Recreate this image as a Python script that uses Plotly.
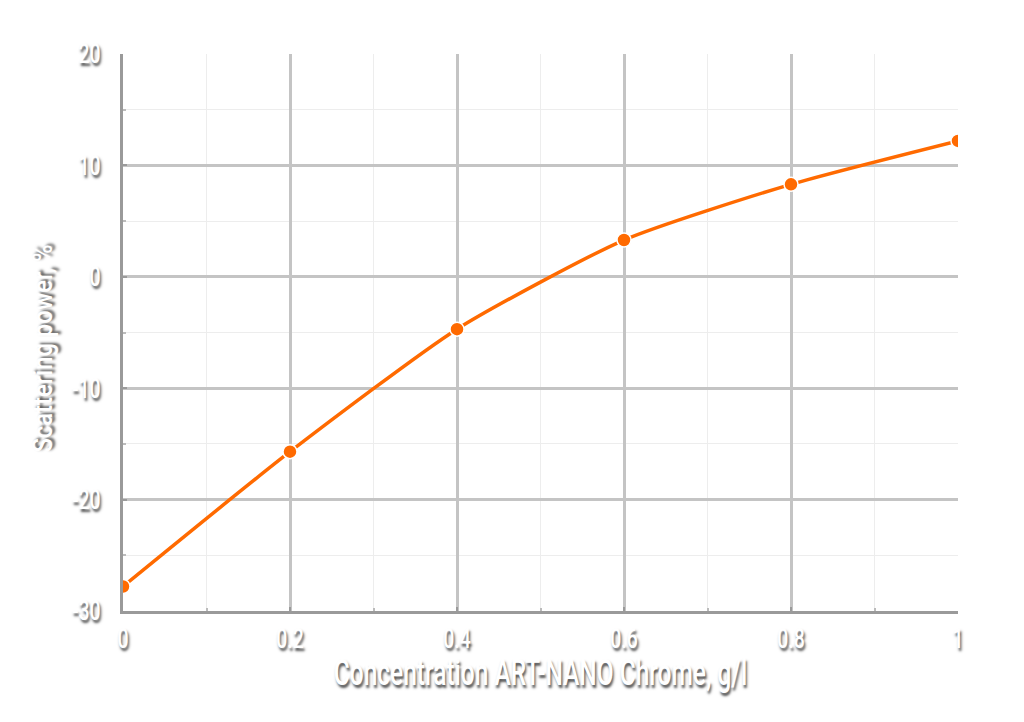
import plotly.graph_objects as go

concentration = [0, 0.2, 0.4, 0.6, 0.8, 1.0]
scattering_power = [-27.8, -15.7, -4.7, 3.3, 8.3, 12.2]

x_ticks = [0, 0.2, 0.4, 0.6, 0.8, 1]
x_ticklabels = ["0", "0.2", "0.4", "0.6", "0.8", "1"]
y_ticks = [-30, -20, -10, 0, 10, 20]
y_ticklabels = ["-30", "-20", "-10", "0", "10", "20"]

x_title = "Concentration ART-NANO Chrome, g/l"
y_title = "Scattering power, %"

FONT = "Roboto, Liberation Sans, sans-serif"
SHADOW = "2px 3px 3px #555555"

fig = go.Figure()
fig.add_trace(go.Scatter(
    x=concentration, y=scattering_power,
    mode="lines+markers",
    line=dict(color="#ff6a00", width=3.5, shape="spline", smoothing=0.6),
    marker=dict(color="#ff6a00", size=14, line=dict(color="white", width=1.5)),
    showlegend=False,
))

axis_common = dict(
    showline=True, linecolor="#9a9a9a", linewidth=3,
    showgrid=True, gridcolor="#c4c4c4", gridwidth=2.5,
    zeroline=False,
    ticks="inside", tickcolor="#9a9a9a", ticklen=4, tickwidth=2,
    tickfont=dict(family=FONT, size=27, color="white", shadow=SHADOW, weight=500),
    minor=dict(showgrid=True, gridcolor="#ededed", gridwidth=1,
               ticks="inside", ticklen=3, tickcolor="#bbbbbb"),
)

fig.update_layout(
    width=1024, height=722,
    margin=dict(l=115, r=74, t=46, b=119),
    paper_bgcolor="white", plot_bgcolor="white",
    xaxis=dict(range=[0, 1], tickvals=x_ticks, ticktext=x_ticklabels, ticklabelstandoff=2,
               title=dict(text=x_title, font=dict(family=FONT, size=36, color="white", shadow=SHADOW, weight=500), standoff=0),
               **axis_common),
    yaxis=dict(range=[-30, 20], tickvals=y_ticks, ticktext=y_ticklabels, ticklabelstandoff=14,
               title=dict(text=y_title, font=dict(family=FONT, size=28, color="white", shadow=SHADOW, weight=500), standoff=0),
               **axis_common),
)
fig.update_xaxes(minor_dtick=0.1)
fig.update_yaxes(minor_dtick=5)

# Narrow the glyphs (the reference uses a condensed typeface)
post = """
function squeeze(sel, f, shift) {
  document.querySelectorAll(sel).forEach(function (t) {
    var L = t.getComputedTextLength();
    t.setAttribute('lengthAdjust', 'spacingAndGlyphs');
    t.setAttribute('textLength', (L * f).toFixed(1));
    if (shift) {
      t.setAttribute('transform', shift + ' ' + (t.getAttribute('transform') || ''));
    }
  });
}
squeeze('.xtick text', 0.72);
squeeze('.ytick text', 0.72);
squeeze('text.xtitle', 0.68, 'translate(0,-3)');
squeeze('text.ytitle', 0.85, 'translate(0,16)');
"""
fig.write_html("out.html", post_script=post)
